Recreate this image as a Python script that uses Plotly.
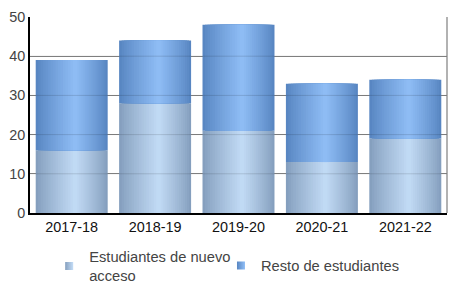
import plotly.graph_objects as go

categories = ["2017-18", "2018-19", "2019-20", "2020-21", "2021-22"]
nuevo_acceso = [16, 28, 21, 13, 19]
resto = [23, 16, 27, 20, 15]
series_names = ["Estudiantes de nuevo<br>acceso", "Resto de estudiantes"]
y_ticks = [0, 10, 20, 30, 40, 50]

# style
BAR_W = 0.863
PEAK = 0.55
N_LAYERS = 16
dark_bottom, light_bottom = (133, 159, 190), (196, 221, 247)
dark_top, light_top = (88, 134, 194), (145, 191, 247)


def mix(a, b, t):
    return "rgb(%d,%d,%d)" % tuple(round(a[i] + (b[i] - a[i]) * t) for i in range(3))


fig = go.Figure()

bases = [[0] * len(categories), nuevo_acceso]
values = [nuevo_acceso, resto]
colors = [(dark_bottom, light_bottom), (dark_top, light_top)]

left0 = -BAR_W / 2
right0 = BAR_W / 2
peak = left0 + PEAK * BAR_W
for s in range(2):
    d, l = colors[s]
    for k in range(N_LAYERS):
        t = k / N_LAYERS
        left = left0 + t * (peak - left0)
        right = right0 - t * (right0 - peak)
        fig.add_trace(go.Bar(
            x=categories, y=values[s], base=bases[s],
            width=right - left, offset=left,
            marker=dict(color=mix(d, l, t ** 0.9), line=dict(width=0)),
            showlegend=False, hoverinfo="skip",
        ))

# legend entries
legend_ids = ["legend", "legend2"]
for s in range(2):
    d, l = colors[s]
    fig.add_trace(go.Scatter(
        x=[None], y=[None], mode="markers", name=series_names[s],
        legend=legend_ids[s],
        marker=dict(symbol="square", size=8, color=mix(d, l, 0.0),
                    gradient=dict(type="horizontal", color=mix(d, l, 1.0)),
                    line=dict(width=0)),
    ))

shapes = [dict(type="line", xref="paper", yref="y", x0=0, x1=1, y0=v, y1=v,
               line=dict(color="rgba(0,0,0,0.13)", width=1), layer="above")
          for v in y_ticks[1:-1]]
shapes.append(dict(type="line", xref="paper", yref="paper", x0=1, x1=1, y0=0, y1=1,
                   line=dict(color="#999999", width=1.5), layer="below"))

legend_style = dict(orientation="h", xanchor="left", yanchor="top",
                    font=dict(size=14.7, color="#444444"), itemwidth=30,
                    bgcolor="rgba(0,0,0,0)")

fig.update_layout(
    width=456, height=305,
    margin=dict(l=30, r=9, t=17, b=92),
    barmode="overlay",
    plot_bgcolor="white", paper_bgcolor="white",
    font=dict(family="Liberation Sans, Arial, sans-serif", size=14, color="#444444"),
    xaxis=dict(type="category", range=[-0.5, 4.5], showline=True, linecolor="black",
               linewidth=1.5, ticks="", tickfont=dict(color="#111111", size=14.4),
               showgrid=False, fixedrange=True),
    yaxis=dict(range=[0, 50], tickvals=y_ticks, showline=True, linecolor="black",
               linewidth=1.5, showgrid=True, gridcolor="#8c8c8c", gridwidth=1,
               zeroline=False, ticks="", tickfont=dict(color="#444444", size=14.4),
               fixedrange=True),
    legend=dict(x=0.046, y=-0.14, **legend_style),
    legend2=dict(x=0.458, y=-0.186, **legend_style),
    shapes=shapes,
)

fig.write_html("out.html")
